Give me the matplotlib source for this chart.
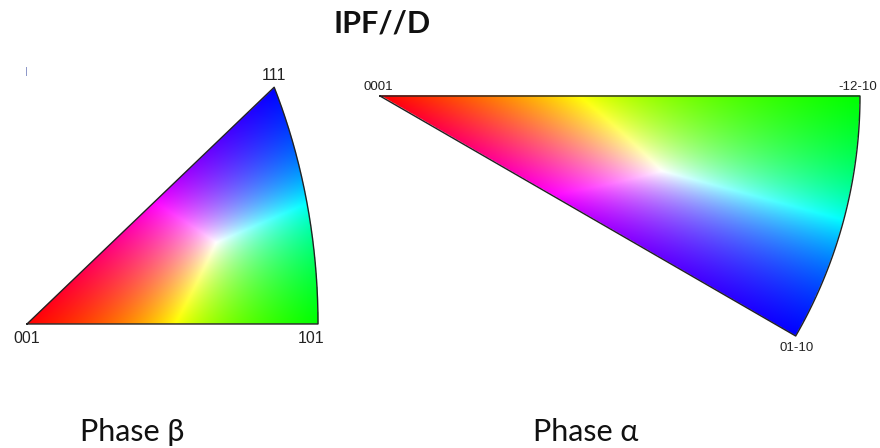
import numpy as np
import matplotlib
matplotlib.use('Agg')
import matplotlib.pyplot as plt

# pole figure labels
cubic_labels = ['001', '101', '111']
hex_labels = ['0001', '-12-10', '01-10']
phase_names = ['Phase β', 'Phase α']
title = 'IPF//D'

# corner directions (unit vectors) for each key
cubic_corners = np.array([[0, 0, 1], [1, 0, 1], [1, 1, 1]], dtype=float)
hex_corners = np.array([[0, 0, 1], [1, 0, 0], [np.cos(np.pi / 6), -np.sin(np.pi / 6), 0]])
cubic_corners /= np.linalg.norm(cubic_corners, axis=1)[:, None]

S = 2 * np.sin(np.pi / 8)  # equal-area radius of 101, used to normalise the cubic key


def ea_proj(n):
    th = np.arccos(np.clip(n[..., 2], -1, 1))
    ph = np.arctan2(n[..., 1], n[..., 0])
    r = 2 * np.sin(th / 2) / S
    return r * np.cos(ph), r * np.sin(ph)


def st_proj(n):
    th = np.arccos(np.clip(n[..., 2], -1, 1))
    ph = np.arctan2(n[..., 1], n[..., 0])
    r = np.tan(th / 2)
    return r * np.cos(ph), r * np.sin(ph)


def key_rgba(n, corners, inside):
    # weights of the direction in the corner basis -> RGB
    M = corners.T
    w = np.linalg.solve(M, n.reshape(-1, 3).T).T.reshape(n.shape)
    w = np.clip(w, 0, None)
    w = w / np.maximum(w.max(axis=-1, keepdims=True), 1e-9)
    rgba = np.ones(n.shape[:-1] + (4,))
    rgba[..., :3] = w
    rgba[..., 3] = inside.astype(float)
    return rgba


fig = plt.figure(figsize=(8.8, 4.48), dpi=100)
H = 448.0
lab_font = ['Liberation Sans', 'DejaVu Sans']

# ---- cubic key (equal area) ----
xs, ys = 291.0, 278.7
ax1 = fig.add_axes([12.45 / 880, (H - 337.9) / H, 1.1 * xs / 880, 0.95 * ys / H])
ax1.set_xlim(-0.05, 1.05)
ax1.set_ylim(-0.05, 0.9)
gx, gy = np.meshgrid(np.linspace(-0.05, 1.05, 700), np.linspace(-0.05, 0.9, 600))
rho = np.hypot(gx, gy) * S
th = 2 * np.arcsin(np.clip(rho / 2, 0, 1))
ph = np.arctan2(gy, gx)
n = np.stack([np.sin(th) * np.cos(ph), np.sin(th) * np.sin(ph), np.cos(th)], axis=-1)
u, v, w = n[..., 0], n[..., 1], n[..., 2]
inside = (v >= 0) & (u >= v) & (w >= u)
ax1.imshow(key_rgba(n, cubic_corners, inside), extent=(-0.05, 1.05, -0.05, 0.9),
           origin='lower', aspect='auto', interpolation='bilinear')
# boundary
t = np.linspace(0, 1, 200)
e1 = cubic_corners[0] * (1 - t)[:, None] + cubic_corners[1] * t[:, None]
e2 = cubic_corners[1] * (1 - t)[:, None] + cubic_corners[2] * t[:, None]
e3 = cubic_corners[2] * (1 - t)[:, None] + cubic_corners[0] * t[:, None]
edge = np.vstack([e1, e2, e3])
edge /= np.linalg.norm(edge, axis=1)[:, None]
bx, by = ea_proj(edge)
ax1.plot(bx, by, color='#222222', lw=1.0)
cx, cy = ea_proj(cubic_corners)
lab_style = dict(fontsize=11.5, family=lab_font, color='#222222',
                 textcoords='offset points', ha='center')
ax1.annotate(cubic_labels[0], (cx[0], cy[0]), xytext=(0, -5), va='top', **lab_style)
ax1.annotate(cubic_labels[1], (cx[1], cy[1]), xytext=(-5, -5), va='top', **lab_style)
ax1.annotate(cubic_labels[2], (cx[2], cy[2]), xytext=(0, 3), va='bottom', **lab_style)
ax1.axis('off')

# ---- hexagonal key (stereographic) ----
sc = 480.0
ax2 = fig.add_axes([(380 - 0.05 * sc) / 880, (H - 360) / H, 1.1 * sc / 880, 0.6 * sc / H])
ax2.set_xlim(-0.05, 1.05)
ax2.set_ylim(-0.55, 0.05)
gx, gy = np.meshgrid(np.linspace(-0.05, 1.05, 900), np.linspace(-0.55, 0.05, 500))
r = np.hypot(gx, gy)
th = 2 * np.arctan(r)
ph = np.arctan2(gy, gx)
n = np.stack([np.sin(th) * np.cos(ph), np.sin(th) * np.sin(ph), np.cos(th)], axis=-1)
inside = (r <= 1) & (ph <= 0) & (ph >= -np.pi / 6)
ax2.imshow(key_rgba(n, hex_corners, inside), extent=(-0.05, 1.05, -0.55, 0.05),
           origin='lower', aspect='auto', interpolation='bilinear')
arc = np.linspace(0, -np.pi / 6, 100)
hx = np.concatenate([[0], np.cos(arc), [0]])
hy = np.concatenate([[0], np.sin(arc), [0]])
ax2.plot(hx, hy, color='#222222', lw=1.0)
px, py = st_proj(hex_corners)
lab_style['fontsize'] = 9.5
ax2.annotate(hex_labels[0], (px[0], py[0]), xytext=(-1, 2), va='bottom', **lab_style)
lab_style['ha'] = 'right'
ax2.annotate(hex_labels[1], (px[1], py[1]), xytext=(12.5, 2), va='bottom', **lab_style)
lab_style['ha'] = 'center'
ax2.annotate(hex_labels[2], (px[2], py[2]), xytext=(1, -4), va='top', **lab_style)
ax2.axis('off')

# ---- texts ----
fig.text(382 / 880, 1 - 24 / H, title, fontsize=22, fontweight='bold',
         family=['Lato', 'DejaVu Sans'], ha='center', va='center', color='#111111')
fig.text(132 / 880, 1 - 441 / H, phase_names[0], fontsize=22,
         family=['Lato', 'DejaVu Sans'], ha='center', va='baseline', color='#111111')
fig.text(586 / 880, 1 - 441 / H, phase_names[1], fontsize=22,
         family=['Lato', 'DejaVu Sans'], ha='center', va='baseline', color='#111111')
fig.text(26 / 880, 1 - 72 / H, '|', fontsize=6, color='#6a78b8', ha='center', va='center')

fig.savefig('out.png', dpi=100)
